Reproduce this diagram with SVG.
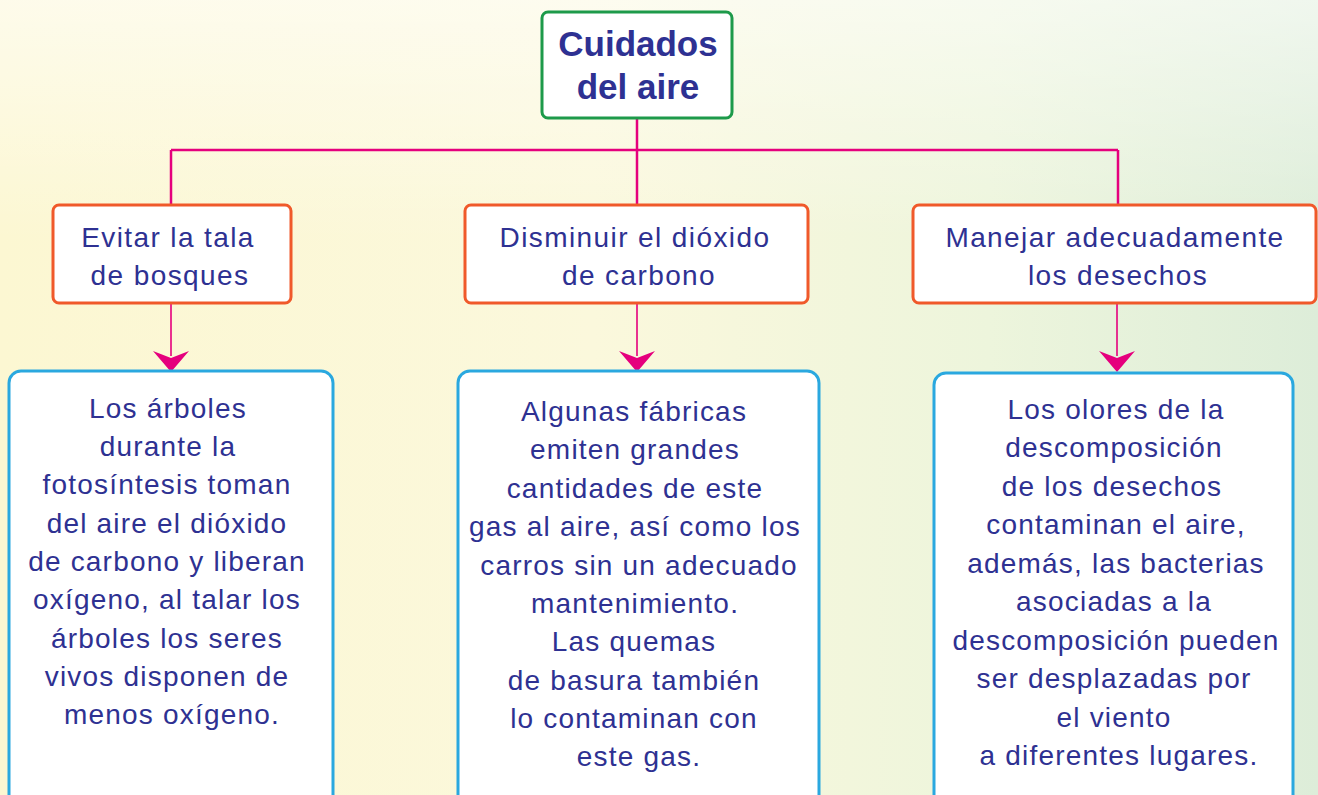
<svg xmlns="http://www.w3.org/2000/svg" width="1318" height="795" viewBox="0 0 1318 795">
<defs>
<linearGradient id="bg" x1="0" y1="0" x2="1" y2="0">
<stop offset="0" stop-color="#fcf7d2"/>
<stop offset="0.45" stop-color="#fbf8dc"/>
<stop offset="0.75" stop-color="#edf5dc"/>
<stop offset="1" stop-color="#ddedd9"/>
</linearGradient>
<linearGradient id="topfade" x1="0" y1="0" x2="0" y2="1">
<stop offset="0" stop-color="#ffffff" stop-opacity="0.55"/>
<stop offset="0.3" stop-color="#ffffff" stop-opacity="0"/>
</linearGradient>
</defs>
<style>
.t{font-family:"Liberation Sans",Arial,sans-serif;fill:#2e3192;text-anchor:middle}
.title{font-size:35px;font-weight:bold}
.mid{font-size:28px;letter-spacing:1.4px}
.body{font-size:28px;letter-spacing:1.2px}
.box{fill:#ffffff;stroke-width:3}
.green{stroke:#1d9a4a}
.orange{stroke:#f0592a}
.blue{stroke:#2aa8df}
.con{fill:none;stroke:#e5007d;stroke-width:2.5}
.thin{fill:none;stroke:#e5007d;stroke-width:1.6}
.head{fill:#e5007d}
</style>
<rect x="0" y="0" width="1318" height="795" fill="url(#bg)"/>
<rect x="0" y="0" width="1318" height="795" fill="url(#topfade)"/>

<g id="connectors">
<path class="con" d="M637 118 V150 M171 150 H1118 M171 150 V205 M637 150 V205 M1118 150 V205"/>
<path class="thin" d="M171 303 V356 M637 303 V356 M1117 303 V356"/>
<path class="head" d="M171 372 L153 351 L171 358 L189 351 Z"/>
<path class="head" d="M637 372 L619 351 L637 358 L655 351 Z"/>
<path class="head" d="M1117 372 L1099 351 L1117 358 L1135 351 Z"/>
</g>

<g id="n-root">
<rect class="box green" x="542" y="12" width="190" height="106" rx="6"/>
<text class="t title" x="638" y="56">Cuidados</text>
<text class="t title" x="638" y="99">del aire</text>
</g>

<g id="n-tala">
<rect class="box orange" x="53" y="205" width="238" height="98" rx="6"/>
<text class="t mid" x="168" y="247">Evitar la tala</text>
<text class="t mid" x="170" y="285">de bosques</text>
</g>

<g id="n-dioxido">
<rect class="box orange" x="465" y="205" width="343" height="98" rx="6"/>
<text class="t mid" x="635" y="247">Disminuir el dióxido</text>
<text class="t mid" x="639" y="285">de carbono</text>
</g>

<g id="n-desechos">
<rect class="box orange" x="913" y="205" width="403" height="98" rx="6"/>
<text class="t mid" x="1115" y="247">Manejar adecuadamente</text>
<text class="t mid" x="1118" y="285">los desechos</text>
</g>

<g id="n-arboles">
<rect class="box blue" x="9" y="371" width="324" height="440" rx="12"/>
<text class="t body" x="168" y="418">Los árboles</text>
<text class="t body" x="168" y="456">durante la</text>
<text class="t body" x="167" y="494">fotosíntesis toman</text>
<text class="t body" x="167" y="533">del aire el dióxido</text>
<text class="t body" x="167" y="571">de carbono y liberan</text>
<text class="t body" x="167" y="609">oxígeno, al talar los</text>
<text class="t body" x="167" y="648">árboles los seres</text>
<text class="t body" x="167" y="686">vivos disponen de</text>
<text class="t body" x="172" y="724">menos oxígeno.</text>
</g>

<g id="n-fabricas">
<rect class="box blue" x="458" y="371" width="361" height="440" rx="12"/>
<text class="t body" x="634" y="421">Algunas fábricas</text>
<text class="t body" x="635" y="459">emiten grandes</text>
<text class="t body" x="635" y="498">cantidades de este</text>
<text class="t body" x="635" y="536">gas al aire, así como los</text>
<text class="t body" x="639" y="575">carros sin un adecuado</text>
<text class="t body" x="635" y="613">mantenimiento.</text>
<text class="t body" x="634" y="651">Las quemas</text>
<text class="t body" x="634" y="690">de basura también</text>
<text class="t body" x="634" y="728">lo contaminan con</text>
<text class="t body" x="639" y="766">este gas.</text>
</g>

<g id="n-olores">
<rect class="box blue" x="934" y="373" width="359" height="440" rx="12"/>
<text class="t body" x="1116" y="419">Los olores de la</text>
<text class="t body" x="1114" y="457">descomposición</text>
<text class="t body" x="1112" y="496">de los desechos</text>
<text class="t body" x="1116" y="534">contaminan el aire,</text>
<text class="t body" x="1116" y="573">además, las bacterias</text>
<text class="t body" x="1114" y="611">asociadas a la</text>
<text class="t body" x="1116" y="650">descomposición pueden</text>
<text class="t body" x="1114" y="688">ser desplazadas por</text>
<text class="t body" x="1114" y="727">el viento</text>
<text class="t body" x="1119" y="765">a diferentes lugares.</text>
</g>
</svg>
